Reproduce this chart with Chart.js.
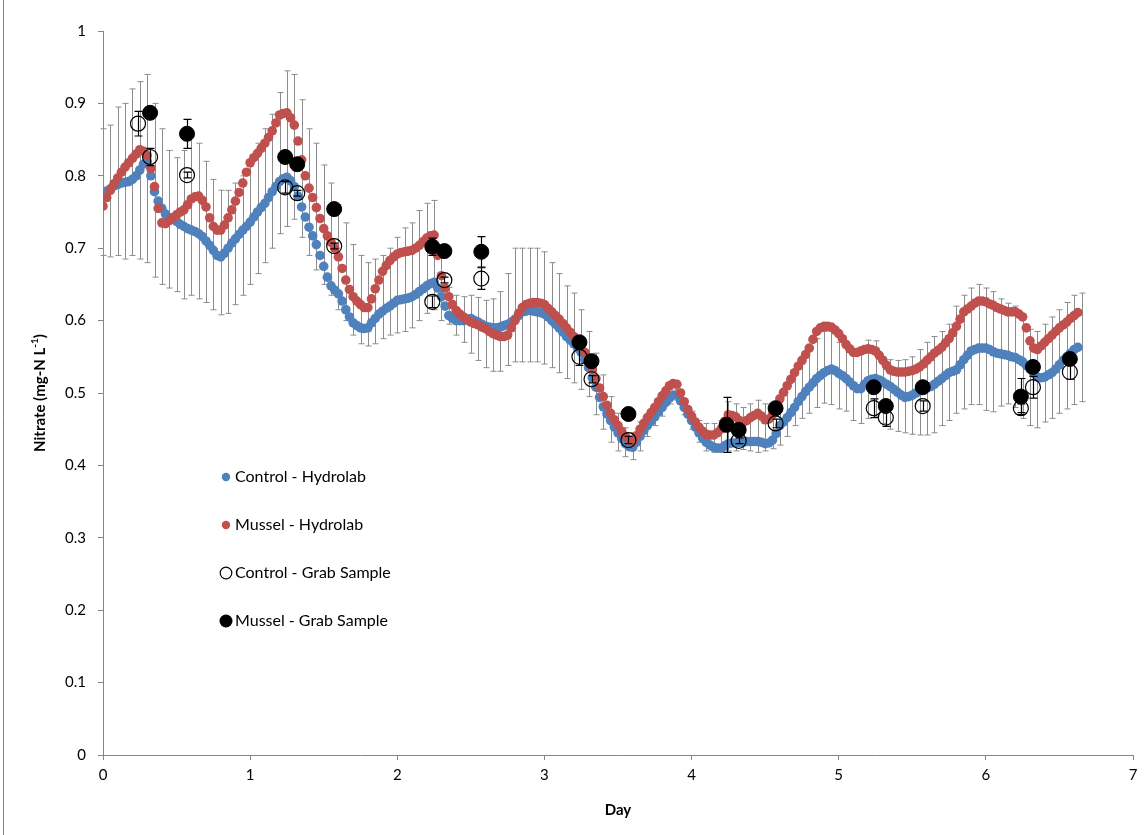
<!DOCTYPE html>
<html>
<head>
<meta charset="utf-8">
<script src="https://cdn.jsdelivr.net/npm/chart.js@4.4.1/dist/chart.umd.min.js"></script>
<style>
  html, body { margin: 0; padding: 0; background: #fff; }
  canvas { display: block; }
</style>
</head>
<body>
<canvas id="nitrateChart" width="1148" height="835"></canvas>
<script>
// Hydrolab readings, one every 0.025 day starting at day 0
const controlHydro = [
  0.775, 0.779, 0.782, 0.786, 0.788, 0.790, 0.791, 0.792, 0.795, 0.800,
  0.808, 0.816, 0.820, 0.800, 0.778, 0.765, 0.755, 0.747, 0.742, 0.740,
  0.737, 0.733, 0.730, 0.727, 0.725, 0.723, 0.720, 0.716, 0.710, 0.704,
  0.697, 0.690, 0.688, 0.693, 0.700, 0.707, 0.713, 0.719, 0.725, 0.730,
  0.736, 0.743, 0.750, 0.756, 0.762, 0.770, 0.778, 0.785, 0.792, 0.796,
  0.798, 0.793, 0.785, 0.772, 0.757, 0.743, 0.729, 0.717, 0.705, 0.690,
  0.675, 0.660, 0.648, 0.642, 0.637, 0.627, 0.615, 0.605, 0.597, 0.593,
  0.590, 0.589, 0.590, 0.597, 0.603, 0.609, 0.613, 0.617, 0.620, 0.624,
  0.628, 0.629, 0.630, 0.631, 0.633, 0.636, 0.640, 0.644, 0.648, 0.651,
  0.653, 0.645, 0.633, 0.620, 0.607, 0.603, 0.600, 0.600, 0.600, 0.602,
  0.603, 0.600, 0.598, 0.595, 0.592, 0.591, 0.590, 0.590, 0.591, 0.593,
  0.595, 0.598, 0.602, 0.607, 0.612, 0.613, 0.614, 0.613, 0.612, 0.611,
  0.609, 0.605, 0.600, 0.595, 0.590, 0.584, 0.578, 0.573, 0.568, 0.562,
  0.556, 0.546, 0.535, 0.521, 0.508, 0.494, 0.481, 0.471, 0.462, 0.453,
  0.445, 0.437, 0.430, 0.426, 0.425, 0.432, 0.440, 0.448, 0.455, 0.461,
  0.467, 0.474, 0.480, 0.487, 0.493, 0.497, 0.497, 0.489, 0.480, 0.471,
  0.462, 0.453, 0.445, 0.438, 0.432, 0.428, 0.425, 0.424, 0.424, 0.427,
  0.430, 0.431, 0.431, 0.432, 0.432, 0.433, 0.433, 0.433, 0.433, 0.432,
  0.430, 0.431, 0.435, 0.444, 0.455, 0.460, 0.466, 0.473, 0.480, 0.488,
  0.495, 0.502, 0.508, 0.514, 0.520, 0.524, 0.528, 0.531, 0.533, 0.531,
  0.527, 0.524, 0.520, 0.515, 0.510, 0.506, 0.506, 0.512, 0.517, 0.519,
  0.520, 0.518, 0.515, 0.512, 0.509, 0.505, 0.501, 0.497, 0.494, 0.495,
  0.497, 0.500, 0.503, 0.505, 0.507, 0.509, 0.512, 0.516, 0.520, 0.524,
  0.528, 0.530, 0.532, 0.539, 0.546, 0.552, 0.558, 0.560, 0.562, 0.562,
  0.562, 0.560, 0.557, 0.555, 0.554, 0.553, 0.552, 0.550, 0.549, 0.546,
  0.543, 0.538, 0.533, 0.527, 0.522, 0.521, 0.522, 0.525, 0.528, 0.533,
  0.539, 0.545, 0.550, 0.555, 0.560, 0.563
];
const musselHydro = [
  0.758, 0.770, 0.780, 0.789, 0.797, 0.805, 0.812, 0.818, 0.824, 0.830,
  0.836, 0.834, 0.828, 0.810, 0.785, 0.755, 0.735, 0.734, 0.738, 0.742,
  0.746, 0.750, 0.753, 0.760, 0.768, 0.771, 0.772, 0.766, 0.757, 0.742,
  0.730, 0.725, 0.725, 0.732, 0.742, 0.753, 0.765, 0.777, 0.790, 0.805,
  0.818, 0.825, 0.831, 0.838, 0.845, 0.853, 0.862, 0.873, 0.884, 0.886,
  0.887, 0.880, 0.870, 0.848, 0.822, 0.800, 0.783, 0.770, 0.756, 0.741,
  0.727, 0.717, 0.708, 0.700, 0.688, 0.672, 0.656, 0.643, 0.633, 0.627,
  0.622, 0.618, 0.618, 0.630, 0.644, 0.656, 0.668, 0.676, 0.683, 0.688,
  0.692, 0.694, 0.695, 0.696, 0.697, 0.700, 0.704, 0.709, 0.714, 0.717,
  0.718, 0.690, 0.662, 0.645, 0.633, 0.622, 0.614, 0.609, 0.605, 0.601,
  0.598, 0.596, 0.594, 0.591, 0.589, 0.585, 0.582, 0.580, 0.578, 0.578,
  0.580, 0.590, 0.600, 0.610, 0.618, 0.622, 0.624, 0.625, 0.625, 0.624,
  0.622, 0.617, 0.612, 0.607, 0.602, 0.596, 0.590, 0.584, 0.578, 0.572,
  0.565, 0.556, 0.547, 0.533, 0.520, 0.507, 0.495, 0.483, 0.472, 0.463,
  0.455, 0.447, 0.440, 0.435, 0.433, 0.441, 0.450, 0.458, 0.466, 0.473,
  0.480, 0.488, 0.496, 0.503, 0.510, 0.513, 0.512, 0.500, 0.488, 0.477,
  0.468, 0.460, 0.453, 0.447, 0.443, 0.442, 0.442, 0.445, 0.450, 0.461,
  0.470, 0.469, 0.467, 0.462, 0.459, 0.462, 0.466, 0.469, 0.472, 0.468,
  0.463, 0.464, 0.470, 0.481, 0.492, 0.501, 0.510, 0.519, 0.528, 0.537,
  0.545, 0.553, 0.562, 0.574, 0.585, 0.590, 0.592, 0.592, 0.591, 0.587,
  0.582, 0.575, 0.567, 0.561, 0.556, 0.556, 0.558, 0.560, 0.561, 0.560,
  0.558, 0.552, 0.545, 0.538, 0.532, 0.530, 0.529, 0.529, 0.529, 0.530,
  0.531, 0.533, 0.536, 0.540, 0.545, 0.550, 0.555, 0.559, 0.563, 0.569,
  0.575, 0.583, 0.592, 0.602, 0.612, 0.616, 0.620, 0.624, 0.627, 0.627,
  0.626, 0.623, 0.621, 0.618, 0.616, 0.614, 0.612, 0.612, 0.612, 0.609,
  0.605, 0.590, 0.572, 0.562, 0.560, 0.565, 0.570, 0.575, 0.580, 0.585,
  0.590, 0.594, 0.598, 0.603, 0.607, 0.611
];
// upper and lower ends of the grey error bars, one every 0.05 day
const hydroErrHigh = [
  0.865, 0.870, 0.895, 0.900, 0.920, 0.930, 0.940, 0.900, 0.865, 0.835,
  0.825, 0.835, 0.855, 0.845, 0.820, 0.795, 0.780, 0.780, 0.790, 0.800,
  0.820, 0.845, 0.865, 0.885, 0.915, 0.945, 0.940, 0.905, 0.865, 0.845,
  0.815, 0.790, 0.760, 0.735, 0.705, 0.690, 0.680, 0.685, 0.690, 0.700,
  0.715, 0.728, 0.735, 0.752, 0.762, 0.766, 0.690, 0.646, 0.635, 0.633,
  0.635, 0.632, 0.628, 0.630, 0.640, 0.665, 0.700, 0.700, 0.700, 0.700,
  0.695, 0.680, 0.665, 0.648, 0.638, 0.615, 0.585, 0.555, 0.525, 0.495,
  0.472, 0.452, 0.445, 0.460, 0.470, 0.480, 0.490, 0.500, 0.505, 0.490,
  0.475, 0.462, 0.458, 0.458, 0.462, 0.488, 0.485, 0.480, 0.485, 0.490,
  0.485, 0.475, 0.495, 0.510, 0.525, 0.540, 0.560, 0.575, 0.585, 0.585,
  0.570, 0.563, 0.555, 0.560, 0.573, 0.572, 0.550, 0.546, 0.545, 0.546,
  0.550, 0.560, 0.570, 0.578, 0.585, 0.595, 0.620, 0.635, 0.645, 0.650,
  0.645, 0.640, 0.630, 0.624, 0.620, 0.605, 0.588, 0.585, 0.595, 0.605,
  0.615, 0.625, 0.635, 0.638
];
const hydroErrLow = [
  0.690, 0.688, 0.690, 0.685, 0.690, 0.685, 0.680, 0.660, 0.650, 0.645,
  0.640, 0.630, 0.635, 0.630, 0.625, 0.615, 0.608, 0.610, 0.622, 0.635,
  0.650, 0.665, 0.680, 0.700, 0.720, 0.730, 0.740, 0.715, 0.690, 0.670,
  0.650, 0.635, 0.615, 0.600, 0.580, 0.568, 0.565, 0.568, 0.575, 0.580,
  0.583, 0.585, 0.590, 0.600, 0.610, 0.615, 0.600, 0.595, 0.580, 0.570,
  0.555, 0.545, 0.535, 0.530, 0.530, 0.538, 0.543, 0.543, 0.543, 0.543,
  0.540, 0.535, 0.528, 0.520, 0.514, 0.505, 0.495, 0.470, 0.450, 0.432,
  0.420, 0.412, 0.408, 0.420, 0.440, 0.455, 0.468, 0.485, 0.490, 0.470,
  0.450, 0.432, 0.420, 0.418, 0.418, 0.420, 0.420, 0.422, 0.420, 0.418,
  0.420, 0.423, 0.428, 0.440, 0.455, 0.465, 0.472, 0.480, 0.486, 0.484,
  0.478, 0.475, 0.462, 0.458, 0.465, 0.467, 0.458, 0.450, 0.447, 0.445,
  0.443, 0.442, 0.442, 0.445, 0.455, 0.462, 0.472, 0.478, 0.484, 0.484,
  0.476, 0.474, 0.482, 0.485, 0.480, 0.465, 0.455, 0.452, 0.460, 0.465,
  0.472, 0.478, 0.484, 0.488
];
const hydroDays = controlHydro.map((_, i) => +(i * 0.025).toFixed(3));
const errDays = hydroErrHigh.map((_, i) => +(i * 0.05).toFixed(2));

// grab samples (day, value, +/- error)
const controlGrabDays = [0.238, 0.32, 0.571, 1.238, 1.32, 1.571, 2.238, 2.32, 2.571, 3.238, 3.32, 3.571,
  4.32, 4.571, 5.238, 5.32, 5.571, 6.238, 6.32, 6.571];
const controlGrab = [0.872, 0.826, 0.801, 0.784, 0.776, 0.703, 0.626, 0.656, 0.658, 0.550, 0.519, 0.435,
  0.434, 0.458, 0.479, 0.466, 0.482, 0.479, 0.508, 0.529];
const controlGrabErr = [0.017, 0.012, 0.004, 0.008, 0.004, 0.004, 0.008, 0.004, 0.015, 0.012, 0.005, 0.005,
  0.004, 0.006, 0.013, 0.012, 0.007, 0.006, 0.015, 0.010];
const musselGrabDays = [0.32, 0.571, 1.238, 1.32, 1.571, 2.238, 2.32, 2.571, 3.238, 3.32, 3.571,
  4.238, 4.32, 4.571, 5.238, 5.32, 5.571, 6.238, 6.32, 6.571];
const musselGrab = [0.887, 0.858, 0.826, 0.816, 0.754, 0.702, 0.696, 0.695, 0.570, 0.544, 0.471,
  0.456, 0.449, 0.479, 0.508, 0.482, 0.508, 0.495, 0.536, 0.547];
const musselGrabErr = [0.004, 0.020, 0.004, 0.004, 0.004, 0.012, 0.004, 0.021, 0.004, 0.004, 0.004,
  0.038, 0.004, 0.004, 0.004, 0.004, 0.004, 0.025, 0.004, 0.004];

const seriesNames = ["Control - Hydrolab", "Mussel - Hydrolab", "Control - Grab Sample", "Mussel - Grab Sample"];

const toPoints = (xs, ys) => ys.map((v, i) => ({ x: xs[i], y: v }));
const axisGrey = "#868686";
const fontFamily = "Lato, 'Open Sans', sans-serif";

// grey bars on the hydrolab record, drawn underneath the dots
const hydroErrorBars = {
  id: "hydroErrorBars",
  beforeDatasetsDraw(chart) {
    const { ctx, scales: { x, y } } = chart;
    ctx.save();
    ctx.strokeStyle = "#8c8c8c";
    ctx.lineWidth = 1;
    hydroErrHigh.forEach((hi, i) => {
      const px = Math.round(x.getPixelForValue(errDays[i])) + 0.5;
      const top = y.getPixelForValue(hi);
      const bot = y.getPixelForValue(hydroErrLow[i]);
      ctx.beginPath();
      ctx.moveTo(px, top); ctx.lineTo(px, bot);
      ctx.moveTo(px - 3, top); ctx.lineTo(px + 3, top);
      ctx.moveTo(px - 3, bot); ctx.lineTo(px + 3, bot);
      ctx.stroke();
    });
    ctx.restore();
  }
};

// black bars on the grab samples, on top of everything
const grabErrorBars = {
  id: "grabErrorBars",
  afterDatasetsDraw(chart) {
    const { ctx, scales: { x, y } } = chart;
    ctx.save();
    ctx.strokeStyle = "#000";
    ctx.lineWidth = 1.2;
    const draw = (days, vals, errs) => {
      vals.forEach((v, i) => {
        const px = Math.round(x.getPixelForValue(days[i])) + 0.5;
        const top = y.getPixelForValue(v + errs[i]);
        const bot = y.getPixelForValue(v - errs[i]);
        ctx.beginPath();
        ctx.moveTo(px, top); ctx.lineTo(px, bot);
        ctx.moveTo(px - 4, top); ctx.lineTo(px + 4, top);
        ctx.moveTo(px - 4, bot); ctx.lineTo(px + 4, bot);
        ctx.stroke();
      });
    };
    draw(controlGrabDays, controlGrab, controlGrabErr);
    draw(musselGrabDays, musselGrab, musselGrabErr);
    ctx.restore();
  }
};

// legend inside the plot, axis titles and the frame line
const decorations = {
  id: "decorations",
  afterDraw(chart) {
    const { ctx, chartArea } = chart;
    ctx.save();
    // frame
    ctx.strokeStyle = axisGrey;
    ctx.lineWidth = 1;
    ctx.beginPath();
    ctx.moveTo(3.5, 0); ctx.lineTo(3.5, 835);
    ctx.stroke();

    // legend
    const lx = 226, ly = 477, gap = 48;
    ctx.font = "16px " + fontFamily;
    ctx.textBaseline = "middle";
    seriesNames.forEach((name, i) => {
      const cy = ly + i * gap;
      ctx.beginPath();
      if (i === 0 || i === 1) {
        ctx.fillStyle = i === 0 ? "#4F81BD" : "#C0504D";
        ctx.arc(lx, cy, 4.2, 0, Math.PI * 2);
        ctx.fill();
      } else if (i === 2) {
        ctx.strokeStyle = "#000";
        ctx.lineWidth = 1.2;
        ctx.arc(lx, cy, 5.8, 0, Math.PI * 2);
        ctx.stroke();
      } else {
        ctx.fillStyle = "#000";
        ctx.arc(lx, cy, 6.5, 0, Math.PI * 2);
        ctx.fill();
      }
      ctx.fillStyle = "#000";
      ctx.textAlign = "left";
      ctx.fillText(name, lx + 9, cy);
    });

    // x title
    ctx.font = "bold 15px " + fontFamily;
    ctx.textAlign = "center";
    ctx.fillText("Day", (chartArea.left + chartArea.right) / 2, 810);

    // y title with superscript
    ctx.translate(40, (chartArea.top + chartArea.bottom) / 2);
    ctx.rotate(-Math.PI / 2);
    const main = "Nitrate (mg-N L", sup = "-1", tail = ")";
    ctx.font = "bold 15px " + fontFamily;
    const w1 = ctx.measureText(main).width, w3 = ctx.measureText(tail).width;
    ctx.font = "bold 10px " + fontFamily;
    const w2 = ctx.measureText(sup).width;
    const sx = -(w1 + w2 + w3) / 2;
    ctx.textAlign = "left";
    ctx.font = "bold 15px " + fontFamily;
    ctx.fillText(main, sx, 0);
    ctx.font = "bold 10px " + fontFamily;
    ctx.fillText(sup, sx + w1, -5);
    ctx.font = "bold 15px " + fontFamily;
    ctx.fillText(tail, sx + w1 + w2, 0);
    ctx.restore();
  }
};

const ctx = document.getElementById("nitrateChart").getContext("2d");
new Chart(ctx, {
  type: "scatter",
  data: {
    datasets: [
      {
        label: seriesNames[0],
        data: toPoints(hydroDays, controlHydro),
        backgroundColor: "#4F81BD",
        borderWidth: 0,
        pointRadius: 4.8,
        order: 4,
      },
      {
        label: seriesNames[1],
        data: toPoints(hydroDays, musselHydro),
        backgroundColor: "#C0504D",
        borderWidth: 0,
        pointRadius: 4.8,
        order: 3,
      },
      {
        label: seriesNames[2],
        data: toPoints(controlGrabDays, controlGrab),
        backgroundColor: "rgba(0,0,0,0)",
        borderColor: "#000",
        borderWidth: 1.2,
        pointRadius: 7.5,
        order: 2,
      },
      {
        label: seriesNames[3],
        data: toPoints(musselGrabDays, musselGrab),
        backgroundColor: "#000",
        borderColor: "#000",
        borderWidth: 1,
        pointRadius: 7.5,
        order: 1,
      },
    ],
  },
  options: {
    responsive: false,
    animation: false,
    layout: { padding: { left: 0, right: 15, top: 31, bottom: 0 } },
    plugins: {
      legend: { display: false },
      tooltip: { enabled: false },
    },
    scales: {
      x: {
        type: "linear",
        min: 0,
        max: 7,
        ticks: { stepSize: 1, color: "#000", font: { size: 15, family: fontFamily }, padding: 6 },
        grid: { drawOnChartArea: false, drawTicks: true, tickLength: 5, color: axisGrey },
        border: { color: axisGrey },
        afterFit: (s) => { s.height = 80; },
      },
      y: {
        min: 0,
        max: 1,
        ticks: {
          stepSize: 0.1,
          color: "#000",
          font: { size: 15, family: fontFamily },
          padding: 12,
          callback: (v) => String(+v.toFixed(1)),
        },
        grid: { drawOnChartArea: false, drawTicks: true, tickLength: 5, color: axisGrey },
        border: { color: axisGrey },
        afterFit: (s) => { s.width = 103; },
      },
    },
  },
  plugins: [hydroErrorBars, grabErrorBars, decorations],
});
</script>
</body>
</html>
